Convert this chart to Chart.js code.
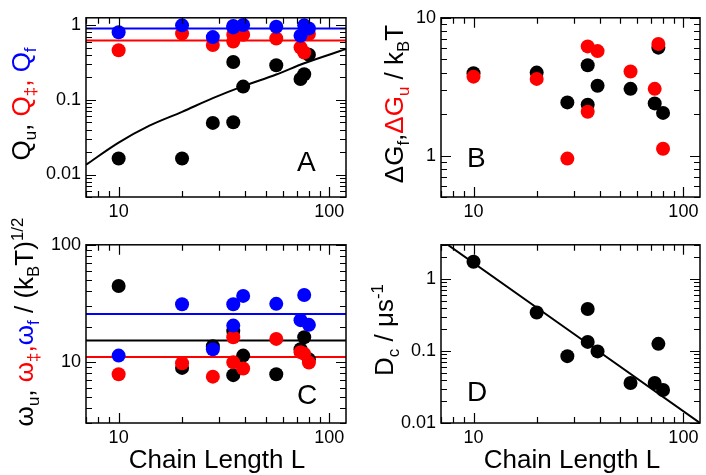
<!DOCTYPE html>
<html>
<head>
<meta charset="utf-8">
<script src="https://cdn.jsdelivr.net/npm/chart.js@4"></script>
<style>
body { margin: 0; background: #fff; width: 706px; height: 475px; position: relative; overflow: hidden; font-family: "Liberation Sans", Arial, sans-serif; }
.panel { position: absolute; }
.txt { position: absolute; white-space: nowrap; font-size: 26px; line-height: 26px; color: #000; }
.ytitle { transform: translate(-50%, -50%) rotate(-90deg); }
.xtitle { transform: translateX(-50%); }
.letter { font-size: 28px; line-height: 28px; }
sub, sup { font-size: 65%; line-height: 0; }
.r { color: #ff0000; }
.b { color: #0000ff; }
</style>
</head>
<body>

<div class="panel" style="left:26px;top:2px"><canvas id="panelA" width="327" height="225"></canvas></div>
<div class="panel" style="left:381px;top:2px"><canvas id="panelB" width="326" height="225"></canvas></div>
<div class="panel" style="left:26px;top:229px"><canvas id="panelC" width="327" height="224"></canvas></div>
<div class="panel" style="left:381px;top:229px"><canvas id="panelD" width="326" height="224"></canvas></div>

<div class="txt ytitle" style="left:21px;top:104px">Q<sub>u</sub>, <span class="r">Q<sub>‡</sub>,</span> <span class="b">Q<sub>f</sub></span></div>
<div class="txt ytitle" style="left:394px;top:104px">ΔG<sub>f</sub>,<span class="r">ΔG<sub>u</sub></span> / k<sub>B</sub>T</div>
<div class="txt ytitle" style="left:24px;top:322px">ω<sub>u</sub>, <span class="r">ω<sub>‡</sub>,</span><span class="b">ω<sub>f</sub></span> / (k<sub>B</sub>T)<sup>1/2</sup></div>
<div class="txt ytitle" style="left:384px;top:330px">D<sub>c</sub> / μs<sup>-1</sup></div>

<div class="txt letter" style="left:297px;top:148px">A</div>
<div class="txt letter" style="left:467px;top:144px">B</div>
<div class="txt letter" style="left:297px;top:381px">C</div>
<div class="txt letter" style="left:467px;top:378px">D</div>

<div class="txt xtitle" style="left:217px;top:446px">Chain Length L</div>
<div class="txt xtitle" style="left:572px;top:446px">Chain Length L</div>

<script>
// chain length of each protein
const chainLength = [10, 20, 28, 35, 35, 39, 56, 73, 76, 80];

// panel A: Q values
const qU  = [0.0164, 0.0164, 0.049, 0.050, 0.32, 0.15, 0.29, 0.19, 0.22, 0.40];
const qTS = [0.46, 0.77, 0.54, 0.74, 0.60, 0.74, 0.66, 0.50, 0.43, 0.76];
const qF  = [0.80, 0.99, 0.69, 0.97, 0.93, 1.0, 0.95, 0.72, 0.99, 0.90];
const qFMean = 0.90;
const qTSMean = 0.62;
const qUCurveL = [7, 10, 14, 20, 28, 39, 56, 76, 120];
const qUCurve  = [0.0135, 0.0267, 0.045, 0.069, 0.105, 0.152, 0.218, 0.308, 0.477];

// panel B: free energies
const dGf = [3.96, 4.0, 2.43, 4.52, 2.34, 3.21, 3.05, 2.39, 6.07, 2.04];
const dGu = [3.74, 3.60, 0.95, 6.2, 2.08, 5.73, 4.07, 3.05, 6.46, 1.12];

// panel C: frequencies
const wU  = [44.5, 8.87, 13.6, 18.3, 7.69, 11.3, 7.84, 12.8, 16.2, 10.5];
const wTS = [7.84, 9.73, 7.47, 16.2, 9.9, 8.76, 15.7, 12.1, 11.7, 9.86];
const wF  = [11.3, 31.0, 12.8, 20.4, 31.0, 36.6, 31.3, 22.7, 37.2, 20.7];
const wFMean = 25.6;
const wUMean = 15.2;
const wTSMean = 11.0;

// panel D: diffusion coefficient
const dC = [1.74, 0.344, 0.085, 0.385, 0.134, 0.099, 0.036, 0.036, 0.126, 0.0288];
const dCFitL = [7, 120];
const dCFit  = [3.5, 0.01];

// axes
const xRange = [7, 120];
const xTicks = [10, 100];
const xTickLabels = ['10', '100'];
const yRangeA = [0.005, 1.25];
const yTicksA = [0.01, 0.1, 1];
const yTickLabelsA = ['0.01', '0.1', '1'];
const yRangeB = [0.5, 10];
const yTicksB = [1, 10];
const yTickLabelsB = ['1', '10'];
const yRangeC = [3, 100];
const yTicksC = [10, 100];
const yTickLabelsC = ['10', '100'];
const yRangeD = [0.01, 3];
const yTicksD = [0.01, 0.1, 1];
const yTickLabelsD = ['0.01', '0.1', '1'];

const BLACK = '#000000', RED = '#ff0000', BLUE = '#0000ff';

function pts(xs, ys) {
    return xs.map((x, i) => ({ x: x, y: ys[i] }));
}

function dots(ys, color, order) {
    return {
        data: pts(chainLength, ys),
        backgroundColor: color,
        borderWidth: 0,
        pointRadius: 7,
        pointHoverRadius: 7,
        order: order
    };
}

function line(xs, ys, color) {
    return {
        data: pts(xs, ys),
        showLine: true,
        borderColor: color,
        borderWidth: 2,
        pointRadius: 0,
        cubicInterpolationMode: 'monotone',
        fill: false,
        order: 5
    };
}

function flat(value, color) {
    return line(xRange, [value, value], color);
}

// inward ticks on all four sides plus the frame
const boxTicks = {
    id: 'boxTicks',
    afterDraw(chart) {
        const { ctx, chartArea: a, scales } = chart;
        ctx.save();
        ctx.strokeStyle = '#000';
        ctx.lineWidth = 1.2;
        ctx.beginPath();
        [scales.x, scales.y].forEach(s => {
            const lo = Math.floor(Math.log10(s.min));
            const hi = Math.ceil(Math.log10(s.max));
            for (let e = lo; e <= hi; e++) {
                for (let k = 1; k < 10; k++) {
                    const v = k * Math.pow(10, e);
                    if (v < s.min * 0.999 || v > s.max * 1.001) continue;
                    const len = k === 1 ? 10 : 6;
                    const p = Math.round(s.getPixelForValue(v)) + 0.5;
                    if (s.axis === 'x') {
                        ctx.moveTo(p, a.bottom); ctx.lineTo(p, a.bottom - len);
                        ctx.moveTo(p, a.top); ctx.lineTo(p, a.top + len);
                    } else {
                        ctx.moveTo(a.left, p); ctx.lineTo(a.left + len, p);
                        ctx.moveTo(a.right, p); ctx.lineTo(a.right - len, p);
                    }
                }
            }
        });
        ctx.stroke();
        ctx.lineWidth = 1.5;
        ctx.strokeRect(a.left, a.top, a.right - a.left, a.bottom - a.top);
        ctx.restore();
    }
};

function makePanel(id, datasets, yRange, yTicks, yLabels) {
    return new Chart(document.getElementById(id), {
        type: 'scatter',
        data: { datasets: datasets },
        options: {
            responsive: false,
            animation: false,
            devicePixelRatio: 1,
            layout: { padding: { top: 5, right: 4, left: 0, bottom: 0 } },
            plugins: { legend: { display: false }, tooltip: { enabled: false } },
            scales: {
                x: {
                    type: 'logarithmic',
                    min: xRange[0],
                    max: xRange[1],
                    afterBuildTicks: s => { s.ticks = xTicks.map(v => ({ value: v })); },
                    afterFit: s => { s.height = 30; },
                    grid: { display: false, drawTicks: false },
                    border: { display: false },
                    ticks: {
                        padding: 4,
                        maxRotation: 0,
                        autoSkip: false,
                        color: '#000',
                        font: { family: '"Liberation Sans", Arial, sans-serif', size: 18 },
                        callback: (v, i) => xTickLabels[i]
                    }
                },
                y: {
                    type: 'logarithmic',
                    min: yRange[0],
                    max: yRange[1],
                    afterBuildTicks: s => { s.ticks = yTicks.map(v => ({ value: v })); },
                    afterFit: s => { s.width = 60; },
                    grid: { display: false, drawTicks: false },
                    border: { display: false },
                    ticks: {
                        padding: 5,
                        autoSkip: false,
                        color: '#000',
                        font: { family: '"Liberation Sans", Arial, sans-serif', size: 18 },
                        callback: (v, i) => yLabels[i]
                    }
                }
            }
        },
        plugins: [boxTicks]
    });
}

makePanel('panelA', [
    dots(qF, BLUE, 1),
    dots(qTS, RED, 2),
    dots(qU, BLACK, 3),
    flat(qFMean, BLUE),
    flat(qTSMean, RED),
    line(qUCurveL, qUCurve, BLACK)
], yRangeA, yTicksA, yTickLabelsA);

makePanel('panelB', [
    dots(dGu, RED, 1),
    dots(dGf, BLACK, 2)
], yRangeB, yTicksB, yTickLabelsB);

makePanel('panelC', [
    dots(wF, BLUE, 1),
    dots(wTS, RED, 2),
    dots(wU, BLACK, 3),
    flat(wFMean, BLUE),
    flat(wUMean, BLACK),
    flat(wTSMean, RED)
], yRangeC, yTicksC, yTickLabelsC);

makePanel('panelD', [
    dots(dC, BLACK, 1),
    line(dCFitL, dCFit, BLACK)
], yRangeD, yTicksD, yTickLabelsD);
</script>
</body>
</html>
